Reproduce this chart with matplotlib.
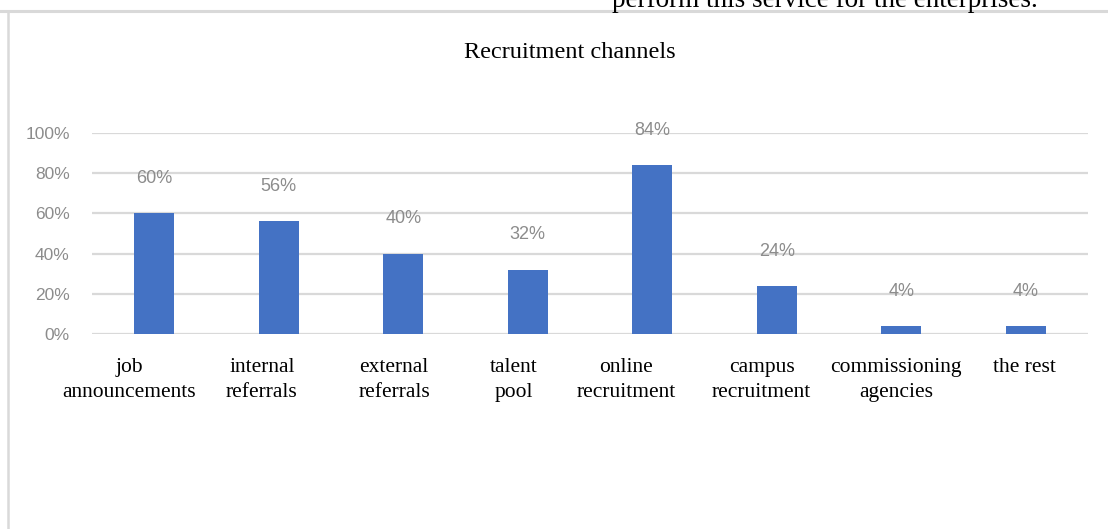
import matplotlib
matplotlib.use("Agg")
import matplotlib.pyplot as plt
from matplotlib.lines import Line2D
from matplotlib.transforms import ScaledTranslation

# Survey results: share of enterprises using each recruitment channel
categories = ["job\nannouncements", "internal\nreferrals", "external\nreferrals",
              "talent\npool", "online\nrecruitment", "campus\nrecruitment",
              "commissioning\nagencies", "the rest"]
shares = [0.60, 0.56, 0.40, 0.32, 0.84, 0.24, 0.04, 0.04]
value_labels = ["60%", "56%", "40%", "32%", "84%", "24%", "4%", "4%"]
y_ticks = [0.0, 0.2, 0.4, 0.6, 0.8, 1.0]
y_tick_labels = ["0%", "20%", "40%", "60%", "80%", "100%"]

# horizontal nudge of each category label (pixels, negative = left)
label_nudge_px = [-25, -17, -9, -14, -26, -15, -5, -1]

W, H = 1108, 529
DPI = 100
fig = plt.figure(figsize=(W / DPI, H / DPI), dpi=DPI)
fig.patch.set_facecolor("white")

serif = ["Liberation Serif", "DejaVu Serif"]
sans = ["Liberation Sans", "DejaVu Sans"]

# Page context: last line of the preceding paragraph and the chart frame
fig.text(612 / W, 1 - 7 / H, "perform this service for the enterprises.",
         family=serif, fontsize=19.5, color="black", ha="left", va="baseline")
fig.add_artist(Line2D([0, 1], [1 - 11 / H] * 2, transform=fig.transFigure,
                      color="#d9d9d9", lw=2.2))
fig.add_artist(Line2D([7.5 / W] * 2, [0, 1 - 11 / H], transform=fig.transFigure,
                      color="#d9d9d9", lw=1.8))

fig.text(570 / W, 1 - 53 / H, "Recruitment channels", family=serif,
         fontsize=17.5, ha="center", va="center")

left, right = 92 / W, 1088 / W
bottom, top = 1 - 334 / H, 1 - 133 / H
ax = fig.add_axes([left, bottom, right - left, top - bottom])

x = list(range(len(categories)))
bars = ax.bar(x, shares, width=0.32, color="#4472C4", zorder=3)
ax.set_xlim(-0.5, len(categories) - 0.5)
ax.set_ylim(0, 1.0)

ax.set_yticks(y_ticks)
ax.set_yticklabels(y_tick_labels, family=sans, fontsize=12.5, color="#8c8c8c")
ax.tick_params(axis="both", length=0)
ax.tick_params(axis="y", pad=16)

# category labels under the axis, each with its own small horizontal nudge
ax.set_xticks(x)
ax.set_xticklabels([])
xaxis_tr = ax.get_xaxis_transform()
for xi, name, dx in zip(x, categories, label_nudge_px):
    tr = xaxis_tr + ScaledTranslation(dx / DPI, -24 / DPI, fig.dpi_scale_trans)
    ax.text(xi, 0, name, transform=tr, family=serif, fontsize=15.5,
            color="black", ha="center", va="top", multialignment="center",
            linespacing=1.4, clip_on=False)

ax.grid(axis="y", color="#d9d9d9", lw=1.6, zorder=0)
for s in ax.spines.values():
    s.set_visible(False)

for rect, lab in zip(bars, value_labels):
    ax.annotate(lab, (rect.get_x() + rect.get_width() / 2, rect.get_height()),
                xytext=(0, 25), textcoords="offset points", ha="center",
                va="center", family=sans, fontsize=13, color="#8c8c8c",
                annotation_clip=False)

fig.savefig("out.png", dpi=DPI)
